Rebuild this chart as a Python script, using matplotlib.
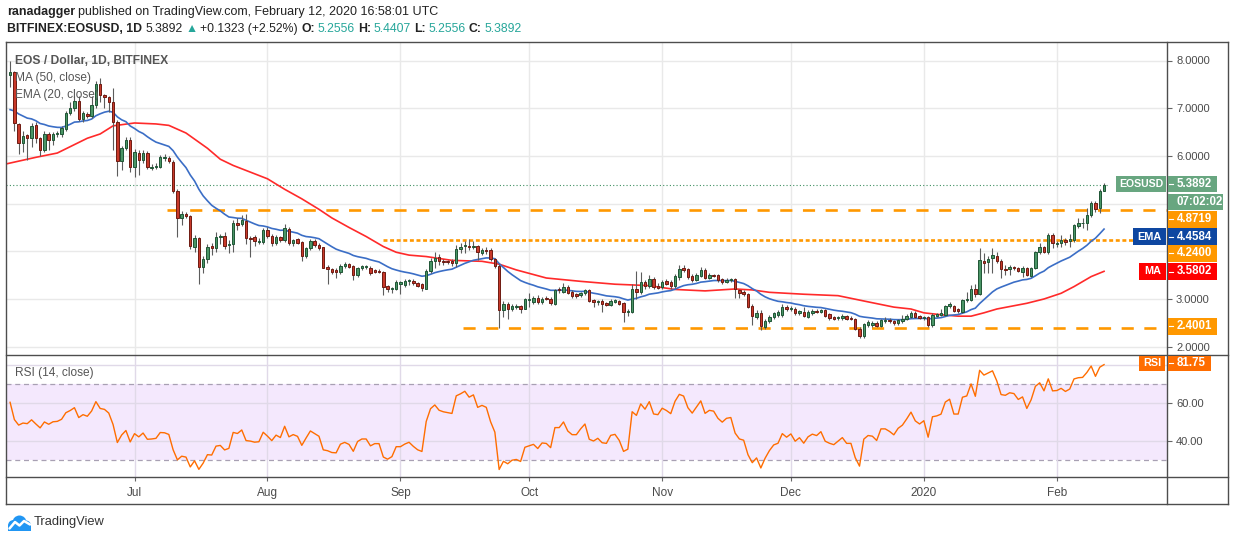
import numpy as np
import pandas as pd
import matplotlib
matplotlib.use("Agg")
import matplotlib.pyplot as plt
from matplotlib.lines import Line2D
from matplotlib.patches import Rectangle, Circle

plt.rcParams['font.family'] = ['Liberation Sans', 'DejaVu Sans']

# ---------------- data ----------------
START = pd.Timestamp('2019-06-01')
DATES = pd.date_range('2019-06-02', '2020-02-12', freq='D')

OPEN = [
    7.70, 7.75, 6.67, 6.28, 6.43, 6.38, 6.65, 6.37, 6.13, 6.46,
    6.33, 6.46, 6.46, 6.56, 6.90, 7.00, 7.15, 6.77, 6.88, 6.84,
    7.06, 7.50, 7.27, 7.24, 7.12, 6.72, 5.90, 6.17, 6.34, 5.77,
    6.06, 5.92, 6.06, 5.74, 5.76, 5.77, 5.96, 5.96, 5.87, 5.26,
    4.69, 4.79, 4.74, 4.10, 4.28, 3.67, 3.84, 4.11, 4.06, 4.31,
    4.33, 4.13, 4.16, 4.59, 4.58, 4.63, 4.28, 4.29, 4.20, 4.20,
    4.44, 4.32, 4.18, 4.29, 4.23, 4.46, 4.18, 4.25, 4.19, 3.91,
    4.06, 4.21, 4.14, 4.08, 3.68, 3.62, 3.60, 3.57, 3.70, 3.73,
    3.69, 3.50, 3.65, 3.67, 3.66, 3.60, 3.59, 3.56, 3.27, 3.20,
    3.22, 3.32, 3.30, 3.37, 3.38, 3.33, 3.31, 3.22, 3.59, 3.80,
    3.89, 3.80, 3.79, 3.79, 3.75, 4.05, 4.11, 4.11, 4.08, 4.11,
    3.97, 4.03, 4.02, 3.84, 3.70, 2.77, 2.89, 2.80, 2.84, 2.85,
    2.80, 2.98, 2.94, 3.03, 2.94, 3.03, 3.01, 2.89, 3.21, 3.15,
    3.26, 3.15, 3.10, 3.08, 3.12, 3.18, 2.98, 2.93, 2.96, 2.91,
    2.88, 2.94, 2.96, 2.91, 2.72, 2.73, 3.20, 3.15, 3.35, 3.28,
    3.42, 3.28, 3.25, 3.37, 3.35, 3.28, 3.46, 3.66, 3.63, 3.49,
    3.40, 3.49, 3.61, 3.45, 3.50, 3.50, 3.42, 3.36, 3.39, 3.41,
    3.19, 3.15, 3.10, 2.86, 2.63, 2.70, 2.42, 2.54, 2.63, 2.66,
    2.66, 2.84, 2.78, 2.80, 2.70, 2.72, 2.63, 2.70, 2.75, 2.73,
    2.77, 2.68, 2.62, 2.60, 2.60, 2.64, 2.61, 2.58, 2.38, 2.22,
    2.46, 2.46, 2.50, 2.44, 2.53, 2.56, 2.54, 2.49, 2.53, 2.58,
    2.63, 2.71, 2.64, 2.60, 2.63, 2.46, 2.65, 2.67, 2.67, 2.86,
    2.85, 2.79, 2.73, 2.98, 2.98, 3.22, 3.11, 3.80, 3.77, 3.85,
    3.90, 3.80, 3.62, 3.62, 3.67, 3.66, 3.57, 3.64, 3.49, 3.66,
    3.98, 4.08, 3.98, 4.34, 4.16, 4.17, 4.24, 4.22, 4.24, 4.54,
    4.59, 4.59, 4.76, 5.01, 4.90, 5.2556,
]
HIGH = [
    8.00, 7.78, 6.70, 6.53, 6.46, 6.70, 6.72, 6.40, 6.53, 6.51,
    6.50, 6.52, 6.62, 6.95, 7.12, 7.25, 7.26, 6.95, 6.92, 7.26,
    7.57, 7.64, 7.30, 7.26, 7.42, 6.75, 6.20, 6.40, 6.40, 6.15,
    6.12, 6.12, 6.10, 5.82, 5.85, 6.02, 6.03, 6.00, 5.92, 5.30,
    4.85, 4.83, 4.76, 4.35, 4.31, 3.90, 4.15, 4.18, 4.40, 4.37,
    4.40, 4.24, 4.65, 4.69, 4.76, 4.78, 4.32, 4.34, 4.28, 4.48,
    4.50, 4.36, 4.35, 4.33, 4.58, 4.50, 4.26, 4.28, 4.22, 4.10,
    4.26, 4.25, 4.18, 4.10, 3.72, 3.66, 3.64, 3.74, 3.77, 3.76,
    3.72, 3.68, 3.72, 3.72, 3.70, 3.63, 3.62, 3.58, 3.30, 3.25,
    3.40, 3.38, 3.42, 3.42, 3.42, 3.36, 3.34, 3.62, 3.86, 3.99,
    3.95, 3.84, 3.82, 3.83, 4.14, 4.18, 4.21, 4.25, 4.21, 4.14,
    4.06, 4.08, 4.06, 3.87, 3.73, 2.95, 2.93, 2.90, 2.90, 2.88,
    3.02, 3.13, 3.07, 3.08, 3.04, 3.07, 3.04, 3.20, 3.26, 3.33,
    3.29, 3.18, 3.13, 3.14, 3.20, 3.20, 3.00, 2.98, 2.99, 2.94,
    3.00, 3.01, 2.98, 2.93, 2.80, 3.32, 3.58, 3.56, 3.40, 3.50,
    3.47, 3.33, 3.40, 3.42, 3.40, 3.52, 3.72, 3.71, 3.66, 3.52,
    3.54, 3.68, 3.65, 3.54, 3.53, 3.53, 3.44, 3.43, 3.43, 3.43,
    3.22, 3.18, 3.12, 2.89, 2.76, 2.76, 2.58, 2.67, 2.73, 2.76,
    2.90, 2.88, 2.86, 2.84, 2.76, 2.84, 2.76, 2.78, 2.78, 2.79,
    2.80, 2.71, 2.64, 2.64, 2.68, 2.67, 2.64, 2.60, 2.41, 2.50,
    2.55, 2.54, 2.53, 2.58, 2.63, 2.60, 2.57, 2.58, 2.66, 2.68,
    2.74, 2.74, 2.67, 2.65, 2.65, 2.70, 2.70, 2.80, 2.88, 2.94,
    2.88, 2.82, 3.00, 3.14, 3.30, 3.32, 4.06, 3.96, 3.90, 4.06,
    3.98, 3.84, 3.71, 3.71, 3.70, 3.68, 3.70, 3.68, 3.68, 4.00,
    4.17, 4.12, 4.38, 4.38, 4.22, 4.34, 4.28, 4.36, 4.58, 4.69,
    4.69, 4.90, 5.05, 5.05, 5.30, 5.4407,
]
LOW = [
    7.45, 6.52, 6.04, 6.08, 5.92, 6.18, 6.28, 5.99, 6.08, 6.13,
    6.22, 6.40, 6.40, 6.52, 6.86, 6.95, 6.74, 6.72, 6.80, 6.80,
    7.00, 7.12, 7.01, 6.91, 6.12, 5.57, 5.70, 6.12, 5.66, 5.56,
    5.60, 5.85, 5.72, 5.70, 5.72, 5.74, 5.90, 5.85, 5.22, 4.31,
    4.55, 4.70, 4.05, 3.98, 3.31, 3.54, 3.75, 3.92, 3.98, 4.15,
    4.05, 3.96, 3.99, 4.44, 4.52, 4.16, 3.89, 4.12, 4.15, 4.15,
    4.28, 4.12, 4.14, 4.20, 4.20, 4.14, 4.12, 4.15, 3.80, 3.86,
    4.02, 4.10, 4.02, 3.64, 3.31, 3.52, 3.45, 3.52, 3.66, 3.64,
    3.40, 3.46, 3.60, 3.62, 3.50, 3.55, 3.55, 3.08, 3.15, 3.12,
    3.18, 3.10, 3.25, 3.30, 3.30, 3.25, 3.17, 3.20, 3.55, 3.66,
    3.72, 3.72, 3.74, 3.70, 3.68, 3.96, 3.96, 4.03, 4.04, 3.82,
    3.93, 3.94, 3.80, 3.66, 2.39, 2.62, 2.58, 2.74, 2.78, 2.70,
    2.78, 2.84, 2.90, 2.90, 2.90, 2.97, 2.88, 2.87, 3.12, 3.12,
    3.10, 3.03, 3.03, 3.04, 3.08, 2.93, 2.84, 2.88, 2.73, 2.85,
    2.85, 2.91, 2.88, 2.52, 2.65, 2.70, 3.00, 3.10, 3.22, 3.24,
    3.22, 3.20, 3.22, 3.30, 3.22, 3.24, 3.40, 3.57, 3.42, 3.35,
    3.38, 3.46, 3.42, 3.42, 3.47, 3.36, 3.32, 3.33, 3.36, 3.03,
    3.03, 3.06, 2.82, 2.45, 2.58, 2.35, 2.38, 2.50, 2.58, 2.62,
    2.62, 2.74, 2.74, 2.66, 2.66, 2.62, 2.60, 2.66, 2.70, 2.70,
    2.62, 2.55, 2.56, 2.56, 2.57, 2.56, 2.55, 2.36, 2.19, 2.19,
    2.42, 2.42, 2.42, 2.42, 2.50, 2.50, 2.46, 2.45, 2.50, 2.55,
    2.60, 2.60, 2.58, 2.57, 2.42, 2.42, 2.62, 2.64, 2.64, 2.82,
    2.72, 2.70, 2.70, 2.94, 2.95, 3.05, 3.08, 3.54, 3.54, 3.54,
    3.75, 3.43, 3.50, 3.50, 3.60, 3.57, 3.47, 3.48, 3.46, 3.62,
    3.94, 3.96, 3.95, 4.06, 4.10, 4.10, 4.14, 4.10, 4.20, 4.48,
    4.48, 4.45, 4.72, 4.82, 4.80, 5.2556,
]
CLOSE = [
    7.76, 6.68, 6.28, 6.42, 6.38, 6.62, 6.37, 6.13, 6.46, 6.33,
    6.46, 6.48, 6.58, 6.90, 7.01, 7.15, 6.77, 6.90, 6.84, 7.06,
    7.50, 7.27, 7.24, 7.12, 6.72, 5.90, 6.17, 6.34, 5.77, 6.08,
    5.92, 6.06, 5.76, 5.77, 5.79, 5.97, 5.96, 5.90, 5.26, 4.69,
    4.79, 4.74, 4.12, 4.28, 3.67, 3.84, 4.08, 4.06, 4.31, 4.33,
    4.12, 4.16, 4.60, 4.56, 4.66, 4.27, 4.25, 4.21, 4.22, 4.44,
    4.32, 4.18, 4.30, 4.23, 4.48, 4.18, 4.23, 4.18, 3.91, 4.06,
    4.21, 4.14, 4.07, 3.66, 3.63, 3.57, 3.56, 3.70, 3.73, 3.68,
    3.50, 3.65, 3.69, 3.69, 3.54, 3.57, 3.57, 3.26, 3.20, 3.23,
    3.35, 3.35, 3.38, 3.40, 3.33, 3.27, 3.24, 3.59, 3.80, 3.87,
    3.80, 3.78, 3.77, 3.76, 4.05, 4.09, 4.14, 4.08, 4.12, 3.99,
    4.02, 4.00, 3.84, 3.70, 2.77, 2.89, 2.80, 2.85, 2.86, 2.80,
    2.99, 3.01, 3.03, 2.94, 3.01, 3.00, 2.92, 3.18, 3.18, 3.26,
    3.12, 3.06, 3.06, 3.13, 3.19, 2.96, 2.93, 2.96, 2.89, 2.88,
    2.96, 2.97, 2.89, 2.72, 2.74, 3.20, 3.15, 3.35, 3.28, 3.42,
    3.25, 3.24, 3.35, 3.32, 3.28, 3.49, 3.63, 3.61, 3.47, 3.40,
    3.50, 3.61, 3.45, 3.50, 3.49, 3.40, 3.35, 3.40, 3.41, 3.21,
    3.12, 3.10, 2.84, 2.65, 2.70, 2.43, 2.54, 2.63, 2.70, 2.72,
    2.84, 2.78, 2.82, 2.70, 2.74, 2.65, 2.72, 2.75, 2.73, 2.77,
    2.64, 2.61, 2.59, 2.62, 2.65, 2.58, 2.58, 2.38, 2.22, 2.47,
    2.51, 2.50, 2.44, 2.56, 2.56, 2.53, 2.49, 2.55, 2.58, 2.64,
    2.71, 2.63, 2.60, 2.63, 2.46, 2.67, 2.68, 2.70, 2.85, 2.89,
    2.75, 2.75, 2.98, 3.00, 3.22, 3.10, 3.82, 3.76, 3.84, 3.92,
    3.80, 3.62, 3.61, 3.67, 3.66, 3.59, 3.64, 3.50, 3.66, 3.98,
    4.08, 3.98, 4.34, 4.17, 4.18, 4.24, 4.20, 4.26, 4.55, 4.59,
    4.60, 4.76, 5.01, 4.89, 5.26, 5.3892,
]

# MA(50) (days after 2019-06-01, value)
MA_DAYS = [0, 7, 12, 19, 22, 25, 30, 35, 38, 42, 47, 50, 53, 57, 61, 65, 69,
           73, 76, 80, 84, 88, 91, 94, 98, 104, 111, 115, 119, 126, 134, 142,
           150, 156, 163, 170, 174, 178, 186, 194, 201, 207, 211, 214, 218,
           222, 225, 228, 231, 238, 242, 246, 249, 253, 256]
MA_VALUES = [5.83, 5.97, 6.06, 6.37, 6.46, 6.63, 6.69, 6.67, 6.64, 6.48, 6.16,
             5.93, 5.80, 5.66, 5.52, 5.30, 5.10, 4.88, 4.70, 4.50, 4.31, 4.10,
             3.98, 3.92, 3.89, 3.81, 3.79, 3.73, 3.61, 3.44, 3.37, 3.31, 3.28,
             3.20, 3.17, 3.21, 3.19, 3.14, 3.10, 3.07, 2.94, 2.83, 2.79, 2.71,
             2.67, 2.64, 2.64, 2.71, 2.79, 2.91, 3.00, 3.12, 3.26, 3.47, 3.5802]

EMA_SEED = 6.97                      # EMA(20) value at the first visible candle
RSI_SEED_GAIN, RSI_SEED_LOSS = 0.30, 0.20

LEVELS = [4.8719, 4.2400, 2.4001]
LEVEL_STYLES = ['dashed', 'dotted', 'dashed']
LEVEL_STARTS = ['2019-07-08 14:00', '2019-08-27 22:00', '2019-09-15 14:00']
LEVEL_END = '2020-02-26 12:00'

MONTHS = pd.date_range('2019-07-01', '2020-02-01', freq='MS')
MONTH_LABELS = ['Jul', 'Aug', 'Sep', 'Oct', 'Nov', 'Dec', '2020', 'Feb']
PRICE_TICKS = [2, 3, 4, 5, 6, 7, 8]
PRICE_TICKS_HIDDEN = [4, 5]          # covered by the price labels
RSI_TICKS = [40, 60, 80]
RSI_TICKS_HIDDEN = [80]

HEADER_USER = 'ranadagger'
HEADER_REST = 'published on TradingView.com, February 12, 2020 16:58:01 UTC'
SYMBOL = 'BITFINEX:EOSUSD, 1D'
CHANGE = '+0.1323 (+2.52%)'
TITLE = 'EOS / Dollar, 1D, BITFINEX'
COUNTDOWN = '07:02:02'
EMA_LAST, MA_LAST, RSI_LAST = '4.4584', '3.5802', '81.75'

# ---------------- geometry helpers ----------------
W, H = 1234, 541
fig = plt.figure(figsize=(W / 100, H / 100), dpi=100)
fig.patch.set_facecolor('white')


def fx(x):
    return x / W


def fy(y):
    return 1 - y / H


PX0, PXD = 5.8, 4.29          # pixel of day 0, pixels per day
L, R = 6, 1167
XLIM = ((L - PX0) / PXD, (R - PX0) / PXD)


def daynum(ts):
    return (pd.Timestamp(ts) - START) / pd.Timedelta(days=1)


x = np.array([daynum(d) for d in DATES])
o, h, l, c = (np.array(v, dtype=float) for v in (OPEN, HIGH, LOW, CLOSE))
h = np.maximum(h, np.maximum(o, c))
l = np.minimum(l, np.minimum(o, c))

# EMA(20)
ema = np.empty_like(c)
ema[0] = EMA_SEED
alpha = 2 / 21
for i in range(1, len(c)):
    ema[i] = ema[i - 1] + alpha * (c[i] - ema[i - 1])

# RSI(14), Wilder smoothing
rsi = np.empty_like(c)
ag, al, prev = RSI_SEED_GAIN, RSI_SEED_LOSS, o[0]
for i, ci in enumerate(c):
    ch = ci - prev
    ag = (ag * 13 + max(ch, 0)) / 14
    al = (al * 13 + max(-ch, 0)) / 14
    rsi[i] = 100 - 100 / (1 + ag / al)
    prev = ci

month_x = [daynum(m) for m in MONTHS]

# ---------------- price panel ----------------
ax = fig.add_axes([fx(L), fy(355), (R - L) / W, (355 - 42) / H])
ax.set_xlim(*XLIM)
ax.set_ylim(8 - (355 - 60.5) / 47.7, 8 + (60.5 - 42) / 47.7)
for s in ax.spines.values():
    s.set_visible(False)
ax.set_xticks(month_x)
ax.set_yticks(PRICE_TICKS)
ax.set_yticklabels(['' if v in PRICE_TICKS_HIDDEN else f'{v:.4f}'
                    for v in PRICE_TICKS])
ax.grid(True, color='#e9e9e9', lw=1.0)
ax.set_axisbelow(True)
ax.tick_params(axis='x', length=0, labelbottom=False)
ax.yaxis.tick_right()
ax.tick_params(axis='y', length=3.5, width=0.8, color='#666666', labelsize=8,
               labelcolor='#4a4a4a', pad=3)

ax.plot([XLIM[0], daynum('2020-02-13')], [c[-1], c[-1]], color='#3f8f61',
        lw=0.8, ls=(0, (1, 2)), zorder=2)
for lvl, st, s0 in zip(LEVELS, LEVEL_STYLES, LEVEL_STARTS):
    ls = (0, (4.6, 4.0)) if st == 'dashed' else (0, (1.5, 1.0))
    ax.plot([daynum(s0), daynum(LEVEL_END)], [lvl, lvl], color='#ff9800',
            lw=1.9, ls=ls, zorder=2, solid_capstyle='butt')

ax.plot(MA_DAYS, MA_VALUES, color='#ff2a2a', lw=1.2, zorder=3)
ax.plot(x, ema, color='#3b6ec6', lw=1.2, zorder=3)

up = c >= o
ax.vlines(x, l, h, color='#5c5c5c', lw=0.8, zorder=4)
bb = np.minimum(o, c)
bh = np.maximum(np.abs(c - o), 0.008)
ax.bar(x[up], bh[up], bottom=bb[up], width=0.56, color='#4a9566',
       edgecolor='#1f5535', linewidth=0.7, zorder=5)
ax.bar(x[~up], bh[~up], bottom=bb[~up], width=0.56, color='#c8392a',
       edgecolor='#6e1b12', linewidth=0.7, zorder=5)

# ---------------- RSI panel ----------------
axr = fig.add_axes([fx(L), fy(477), (R - L) / W, (477 - 355) / H])
axr.set_xlim(*XLIM)
axr.set_ylim(60 - (477 - 403) / 1.9, 60 + (403 - 355) / 1.9)
for s in axr.spines.values():
    s.set_visible(False)
axr.axhspan(30, 70, color='#f4e8fd', zorder=0, lw=0)
axr.set_xticks(month_x)
axr.set_xticklabels(MONTH_LABELS)
axr.set_yticks(RSI_TICKS)
axr.set_yticklabels(['' if v in RSI_TICKS_HIDDEN else f'{v:.2f}'
                     for v in RSI_TICKS])
axr.grid(True, color='#e0d9e8', lw=1.0, zorder=1)
axr.set_axisbelow(False)
for g in axr.get_xgridlines() + axr.get_ygridlines():
    g.set_zorder(1)
axr.axhline(30, color='#a8a0b3', lw=0.9, ls=(0, (4, 3)), zorder=2)
axr.axhline(70, color='#a8a0b3', lw=0.9, ls=(0, (4, 3)), zorder=2)
axr.plot(x, rsi, color='#ff6d00', lw=1.0, zorder=3)
axr.yaxis.tick_right()
axr.tick_params(axis='y', length=3.5, width=0.8, color='#666666', labelsize=8,
                labelcolor='#4a4a4a', pad=3)
axr.tick_params(axis='x', length=3, width=0.8, color='#666666', labelsize=8.5,
                labelcolor='#4a4a4a', pad=4.5, direction='out')

# ---------------- frame ----------------
fc = '#4d4d4d'
for xs, ys in [((6, 1228), (42, 42)), ((6, 1228), (504, 504)),
               ((6, 6), (42, 504)), ((1228, 1228), (42, 504)),
               ((1167, 1167), (42, 504)), ((6, 1228), (355, 355)),
               ((6, 1228), (477, 477))]:
    fig.add_artist(Line2D([fx(v) for v in xs], [fy(v) for v in ys],
                          color=fc, lw=1.0, transform=fig.transFigure,
                          zorder=6))


# ---------------- right-side labels ----------------
def box(x0, x1, yc, color, text, tick=True, hgt=16.7, center=False, fs=8.3):
    fig.add_artist(Rectangle((fx(x0), fy(yc + hgt / 2)), (x1 - x0) / W,
                             hgt / H, facecolor=color, edgecolor='none',
                             transform=fig.transFigure, zorder=7))
    if center:
        fig.text(fx((x0 + x1) / 2), fy(yc), text, color='white', fontsize=fs,
                 fontweight='bold', ha='center', va='center', zorder=8)
    else:
        if tick:
            fig.add_artist(Line2D([fx(x0 + 1), fx(x0 + 5)], [fy(yc), fy(yc)],
                                  color='white', lw=0.8,
                                  transform=fig.transFigure, zorder=8))
        fig.text(fx(x0 + 9), fy(yc), text, color='white', fontsize=fs,
                 fontweight='bold', ha='left', va='center', zorder=8)


GREEN_LBL, ORANGE, BLUE_LBL, RED_LBL, RSI_LBL = ('#68a680', '#ff9800',
                                                 '#0e47a1', '#ff0000',
                                                 '#ff6d00')
box(1116, 1166, 184, GREEN_LBL, 'EOSUSD', center=True, fs=7.6)
box(1167.5, 1217, 184, GREEN_LBL, f'{c[-1]:.4f}')
box(1167.5, 1223, 202, GREEN_LBL, COUNTDOWN, tick=False)
box(1167.5, 1217, 219.5, ORANGE, f'{LEVELS[0]:.4f}')
box(1133, 1166, 236.7, BLUE_LBL, 'EMA', center=True, fs=7.8)
box(1167.5, 1217, 236.7, BLUE_LBL, EMA_LAST)
box(1167.5, 1217, 253.3, ORANGE, f'{LEVELS[1]:.4f}')
box(1139, 1166, 271.5, RED_LBL, 'MA', center=True, fs=7.8)
box(1167.5, 1217, 271.5, RED_LBL, MA_LAST)
box(1167.5, 1217, 326.3, ORANGE, f'{LEVELS[2]:.4f}')
box(1139, 1165, 363.4, RSI_LBL, 'RSI', center=True, hgt=15, fs=7.8)
box(1167.5, 1211, 363.4, RSI_LBL, RSI_LAST, hgt=15)

# ---------------- texts ----------------
dark = '#222222'
teal = '#26a69a'
renderer = fig.canvas.get_renderer()


def chain(pieces, y, fs):
    """Place text pieces left to right, at their reference x or just after
    the previous piece, whichever is further right."""
    end = 0
    for px, t, col, wt in pieces:
        xs = max(px, end)
        tt = fig.text(fx(xs), fy(y), t, fontsize=fs, color=col,
                      fontweight=wt, va='center', ha='left')
        bbox = tt.get_window_extent(renderer)
        end = bbox.x1 + 3


chain([(7, HEADER_USER, dark, 'bold'), (77, HEADER_REST, dark, 'normal')],
      12, 9.0)
chain([(7, SYMBOL, dark, 'bold'), (139, f'{c[-1]:.4f}', dark, 'normal'),
       (180, '▲', teal, 'normal'), (194, CHANGE, dark, 'normal'),
       (297, 'O:', dark, 'bold'), (312, f'{o[-1]:.4f}', teal, 'normal'),
       (354, 'H:', dark, 'bold'), (368, f'{h[-1]:.4f}', teal, 'normal'),
       (411, 'L:', dark, 'bold'), (423, f'{l[-1]:.4f}', teal, 'normal'),
       (464, 'C:', dark, 'bold'), (478, f'{c[-1]:.4f}', teal, 'normal')],
      29, 8.8)

grey = '#555555'
fig.text(fx(15), fy(60.5), TITLE, fontsize=8.7, fontweight='bold', color=grey,
         va='center', zorder=9)
fig.text(fx(15), fy(78), 'MA (50, close)', fontsize=8.6, color=grey,
         va='center', zorder=9)
fig.text(fx(15), fy(95), 'EMA (20, close)', fontsize=8.6, color=grey,
         va='center', zorder=9)
fig.text(fx(15), fy(373), 'RSI (14, close)', fontsize=8.6, color=grey,
         va='center', zorder=9)

# ---------------- TradingView logo ----------------
axl = fig.add_axes([fx(7), fy(532), 25 / W, 18 / H])
axl.set_xlim(0, 25)
axl.set_ylim(0, 18)
axl.axis('off')
logo_blue = '#2196f3'
for cx, cy, rr in [(6.5, 6.5, 5.5), (12.5, 9.5, 7.0), (19, 6.5, 5.0)]:
    axl.add_patch(Circle((cx, cy), rr, color=logo_blue, lw=0))
axl.add_patch(Rectangle((1, 1), 23, 6, color=logo_blue, lw=0))
axl.plot([2.5, 8, 12.5, 17, 23], [3.5, 10, 6.5, 11, 7.5], color='white',
         lw=1.8, solid_capstyle='round')
fig.text(fx(34), fy(522), 'TradingView', fontsize=9.3, color='#333333',
         va='center')

fig.savefig('out.png', dpi=100)
